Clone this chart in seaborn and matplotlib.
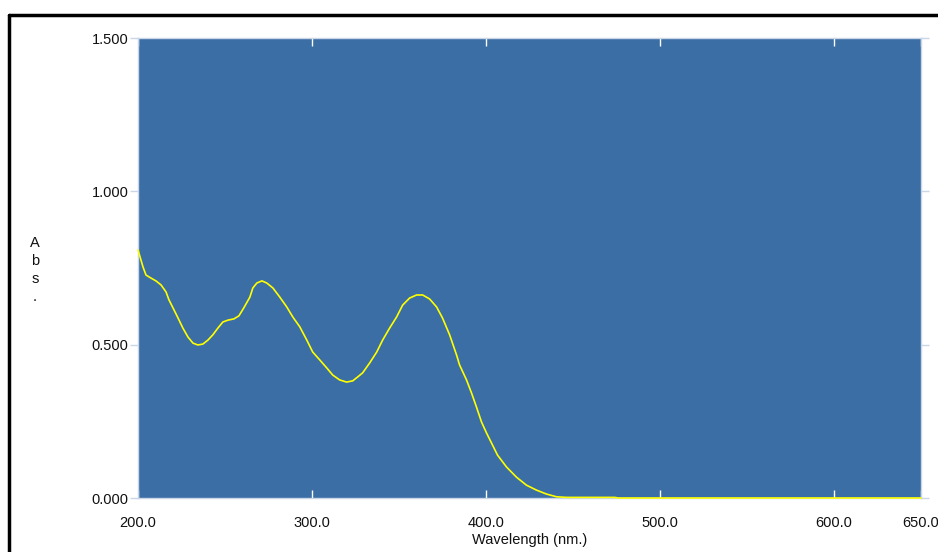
import matplotlib
matplotlib.use("Agg")
import matplotlib.pyplot as plt
import seaborn as sns
import pandas as pd
from matplotlib.lines import Line2D

wavelength = [200.0, 201.7, 202.9, 204.6, 207.5, 210.3, 213.2, 216.1, 217.8, 220.1, 223.0, 225.8,
              228.7, 231.6, 234.4, 237.3, 240.2, 243.0, 245.9, 248.8, 251.7, 255.1, 258.0, 260.8,
              264.3, 266.0, 268.3, 271.2, 274.0, 277.5, 281.5, 285.5, 289.0, 293.0, 297.0, 300.4,
              304.5, 308.5, 311.9, 315.9, 319.9, 323.4, 326.3, 329.1, 333.1, 337.2, 340.6, 344.6,
              348.6, 352.1, 356.1, 360.1, 363.6, 367.6, 371.6, 375.0, 379.1, 383.1, 384.8, 388.8,
              391.7, 394.5, 397.4, 400.3, 403.2, 406.6, 411.8, 417.5, 423.2, 428.9, 434.7, 440.5,
              446.2, 474.0, 476.0, 500.0, 550.0, 600.0, 650.0]
absorbance = [0.809, 0.776, 0.753, 0.727, 0.717, 0.708, 0.695, 0.672, 0.646, 0.620, 0.587, 0.554,
              0.525, 0.505, 0.499, 0.502, 0.515, 0.532, 0.554, 0.574, 0.580, 0.584, 0.594, 0.620,
              0.655, 0.685, 0.701, 0.708, 0.701, 0.685, 0.655, 0.623, 0.590, 0.558, 0.515, 0.476,
              0.450, 0.424, 0.401, 0.385, 0.378, 0.382, 0.395, 0.408, 0.440, 0.476, 0.515, 0.554,
              0.590, 0.629, 0.652, 0.662, 0.662, 0.649, 0.623, 0.587, 0.532, 0.466, 0.434, 0.385,
              0.342, 0.297, 0.248, 0.212, 0.179, 0.140, 0.101, 0.068, 0.042, 0.026, 0.013, 0.004,
              0.002, 0.002, 0.000, 0.000, 0.000, 0.000, 0.000]

x_ticks = [200, 300, 400, 500, 600, 650]
x_labels = ["200.0", "300.0", "400.0", "500.0", "600.0", "650.0"]
y_ticks = [0.0, 0.5, 1.0, 1.5]
y_labels = ["0.000", "0.500", "1.000", "1.500"]

sns.set_theme(style="white")
plt.rcParams["font.family"] = ["Liberation Sans", "DejaVu Sans"]

df = pd.DataFrame({"Wavelength": wavelength, "Abs": absorbance})

fig = plt.figure(figsize=(9.38, 5.52), dpi=100)
fig.patch.set_facecolor("white")
ax = fig.add_axes([138/938, 54/552, (921-138)/938, (498-38)/552])
ax.set_facecolor("#3a6ea5")

sns.lineplot(data=df, x="Wavelength", y="Abs", ax=ax, color="#ffff00", linewidth=1.2)
for ln in ax.lines:
    ln.set_zorder(5)
    ln.set_clip_on(False)

ax.set_xlim(200, 650)
ax.set_ylim(0, 1.5)
ax.set_xticks(x_ticks)
ax.set_xticklabels(x_labels, fontsize=10.5, color="#111111")
ax.set_yticks(y_ticks)
ax.set_yticklabels(y_labels, fontsize=10.5, color="#111111")
ax.tick_params(axis="x", direction="in", length=6, width=1, color="white",
               top=True, bottom=True, pad=13)
ax.tick_params(axis="y", direction="out", length=6, width=1, color="#c8d6e8",
               left=True, right=True, pad=1)
ax.set_xlabel("Wavelength (nm.)", fontsize=10.5, color="#111111", labelpad=2)
ax.set_ylabel("")
for s in ax.spines.values():
    s.set_color("#c8d6e8")
    s.set_linewidth(1)

fig.text(35/938, 1 - 270/552, "A\nb\ns\n.", fontsize=10.5, ha="center", va="center",
         linespacing=1.35, color="#111111")

# window frame
fig.add_artist(Line2D([9/938, 1.0], [1 - 15/552, 1 - 15/552], color="black", lw=2.5,
                      transform=fig.transFigure))
fig.add_artist(Line2D([9/938, 9/938], [0, 1 - 15/552], color="black", lw=2.5,
                      transform=fig.transFigure))

fig.savefig("out.png", dpi=100)
